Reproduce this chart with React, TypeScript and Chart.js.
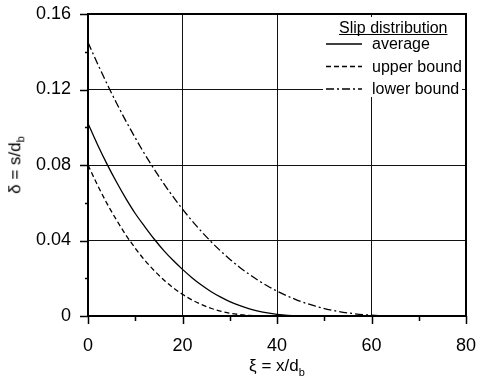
import React, { useEffect, useRef } from "react";
import { Chart, registerables } from "chart.js";

Chart.register(...registerables);

// ---- data ----
const xi = [0, 2, 4, 6, 8, 10, 12, 14, 16, 18, 20, 22, 24, 26, 28, 30, 32, 34, 36, 38, 40, 44, 48, 52, 56, 60, 64, 68];
const average = [0.102, 0.0909, 0.0806, 0.0711, 0.0623, 0.0543, 0.0474, 0.0408, 0.0348, 0.0295, 0.0247, 0.0203, 0.0164, 0.013, 0.0101, 0.0076, 0.0056, 0.0039, 0.0026, 0.0016, 0.0009, 0.0001, 0, 0, 0, 0, 0, 0];
const upperBound = [0.08, 0.0694, 0.0597, 0.051, 0.043, 0.0359, 0.0296, 0.0241, 0.0192, 0.015, 0.0115, 0.0085, 0.0061, 0.0041, 0.0026, 0.0015, 0.0008, 0.0003, 0.0001, 0, 0, 0, 0, 0, 0, 0, 0, 0];
const lowerBound = [0.145, 0.1338, 0.1231, 0.113, 0.1034, 0.0944, 0.0858, 0.0778, 0.0703, 0.0632, 0.0566, 0.0505, 0.0448, 0.0395, 0.0346, 0.0301, 0.026, 0.0223, 0.0189, 0.0159, 0.0132, 0.0087, 0.0053, 0.0029, 0.0013, 0.0004, 0.0001, 0];
const seriesNames = ["average", "upper bound", "lower bound"];
const legendTitle = "Slip distribution";
const xLabelValues = [0, 20, 40, 60, 80];
const yLabelValues = [0, 0.04, 0.08, 0.12, 0.16];

const FONT = "'Liberation Sans', Arial, Helvetica, sans-serif";

const isLabeled = (v: number, list: number[]) => list.some((l) => Math.abs(l - v) < 1e-9);

const decorPlugin = {
  id: "decor",
  afterDatasetsDraw(chart: any) {
    const { ctx, chartArea: a } = chart;
    ctx.save();
    // legend box
    const bx = a.right - 143;
    const by = a.top + 3;
    const bw = 139;
    const bh = 80;
    ctx.fillStyle = "#fff";
    ctx.fillRect(bx, by, bw, bh);
    ctx.fillStyle = "#000";
    ctx.font = `16px ${FONT}`;
    ctx.textBaseline = "alphabetic";
    ctx.textAlign = "left";
    const tx = bx + 16;
    ctx.fillText(legendTitle, tx, by + 15.5);
    const tw = ctx.measureText(legendTitle).width;
    ctx.strokeStyle = "#000";
    ctx.lineWidth = 1;
    ctx.beginPath();
    ctx.moveTo(tx, by + 17.5);
    ctx.lineTo(tx + tw, by + 17.5);
    ctx.stroke();
    ctx.textBaseline = "middle";
    chart.data.datasets.forEach((ds: any, i: number) => {
      const cy = by + 27 + i * 22.5;
      ctx.setLineDash(ds.borderDash || []);
      ctx.lineWidth = ds.borderWidth;
      ctx.beginPath();
      ctx.moveTo(bx + 3, cy);
      ctx.lineTo(bx + 39, cy);
      ctx.stroke();
      ctx.setLineDash([]);
      ctx.fillText(ds.label, bx + 49, cy + 1);
    });
    ctx.restore();
  },
  afterDraw(chart: any) {
    const { ctx, chartArea: a, scales } = chart;
    const xs = scales.x;
    const ys = scales.y;
    ctx.save();
    ctx.strokeStyle = "#000";
    ctx.lineWidth = 1.5;
    ctx.beginPath();
    for (let v = 0; v <= 80; v += 10) {
      const px = Math.round(xs.getPixelForValue(v)) + 0.5;
      ctx.moveTo(px, a.bottom);
      ctx.lineTo(px, a.bottom + (isLabeled(v, xLabelValues) ? 8 : 5));
    }
    for (let k = 0; k <= 8; k++) {
      const v = k * 0.02;
      const py = Math.round(ys.getPixelForValue(v)) + 0.5;
      ctx.moveTo(a.left, py);
      ctx.lineTo(a.left - (isLabeled(v, yLabelValues) ? 8 : 3), py);
    }
    ctx.stroke();
    ctx.lineWidth = 2;
    ctx.strokeRect(a.left, a.top, a.right - a.left, a.bottom - a.top);
    ctx.restore();
  },
};

export default function App() {
  const ref = useRef<HTMLCanvasElement | null>(null);

  useEffect(() => {
    if (!ref.current) return;
    const mk = (arr: number[]) => xi.map((x, i) => ({ x, y: arr[i] }));
    const base = {
      borderColor: "#000",
      backgroundColor: "#000",
      borderWidth: 1.3,
      pointRadius: 0,
      fill: false,
      cubicInterpolationMode: "monotone" as const,
    };
    const chart = new Chart(ref.current, {
      type: "line",
      data: {
        datasets: [
          { ...base, label: seriesNames[0], data: mk(average), borderDash: [] },
          { ...base, label: seriesNames[1], data: mk(upperBound), borderDash: [5, 3] },
          { ...base, label: seriesNames[2], data: mk(lowerBound), borderDash: [8, 3, 2, 3] },
        ],
      },
      options: {
        responsive: false,
        animation: false,
        layout: { padding: { top: 14, right: 11, left: 0, bottom: 0 } },
        plugins: { legend: { display: false }, tooltip: { enabled: false } },
        scales: {
          x: {
            type: "linear",
            min: 0,
            max: 80,
            afterFit: (s: any) => {
              s.height = 63;
              s.paddingLeft = 0;
              s.paddingRight = 0;
            },
            ticks: {
              stepSize: 10,
              autoSkip: false,
              maxRotation: 0,
              padding: 19,
              color: "#000",
              font: { family: FONT, size: 18 },
              callback: (v: any) => (isLabeled(Number(v), xLabelValues) ? String(v) : ""),
            },
            grid: {
              drawTicks: false,
              lineWidth: 1,
              color: (c: any) => {
                const v = c.tick ? c.tick.value : -1;
                return v > 0 && v < 80 && v % 20 === 0 ? "#111" : "rgba(0,0,0,0)";
              },
            },
            border: { display: false },
          },
          y: {
            type: "linear",
            min: 0,
            max: 0.16,
            afterFit: (s: any) => {
              s.width = 88;
              s.paddingTop = 0;
              s.paddingBottom = 0;
            },
            ticks: {
              stepSize: 0.02,
              autoSkip: false,
              padding: 17,
              color: "#000",
              font: { family: FONT, size: 18 },
              callback: (v: any) => {
                const n = Number(v);
                if (!isLabeled(n, yLabelValues)) return "";
                return n === 0 ? "0" : n.toFixed(2);
              },
            },
            grid: {
              drawTicks: false,
              lineWidth: 1,
              color: (c: any) => {
                const v = c.tick ? c.tick.value : -1;
                return v > 0.001 && v < 0.159 && isLabeled(v, yLabelValues) ? "#111" : "rgba(0,0,0,0)";
              },
            },
            border: { display: false },
          },
        },
      },
      plugins: [decorPlugin],
    });
    return () => chart.destroy();
  }, []);

  return (
    <div style={{ position: "fixed", left: 0, top: 0, width: 477, height: 379, background: "#fff", fontFamily: FONT }}>
      <canvas ref={ref} width={477} height={379} style={{ display: "block" }} />
      <div
        style={{
          position: "absolute",
          left: 277,
          top: 367,
          transform: "translate(-50%, -50%)",
          fontSize: 17,
          whiteSpace: "nowrap",
          color: "#000",
        }}
      >
        ξ = x/d<sub style={{ fontSize: 11 }}>b</sub>
      </div>
      <div
        style={{
          position: "absolute",
          left: 16,
          top: 165,
          transform: "translate(-50%, -50%) rotate(-90deg)",
          fontSize: 17,
          whiteSpace: "nowrap",
          color: "#000",
        }}
      >
        δ = s/d<sub style={{ fontSize: 11 }}>b</sub>
      </div>
    </div>
  );
}
